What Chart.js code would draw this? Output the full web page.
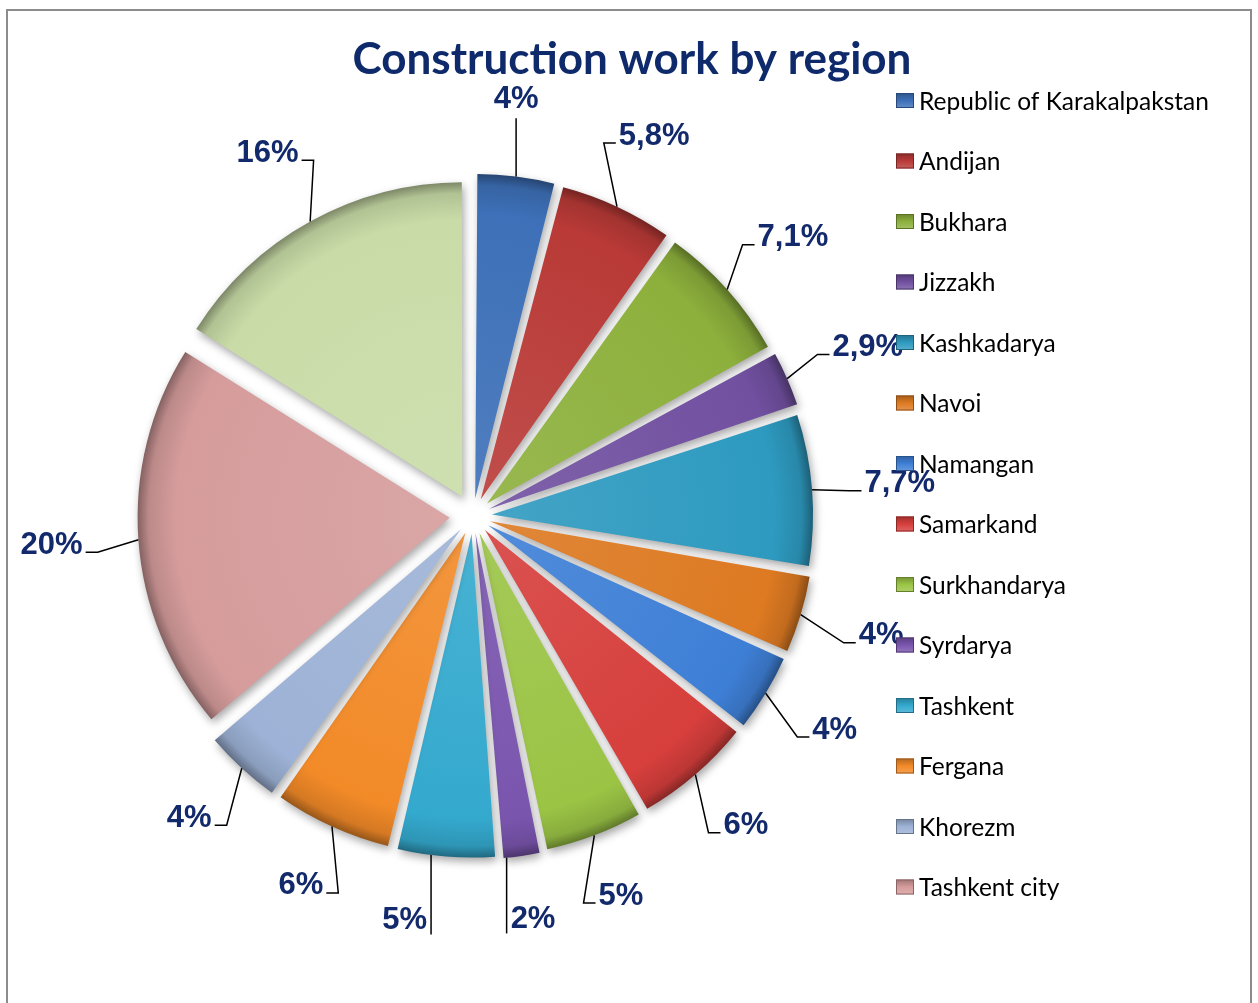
<!DOCTYPE html>
<html>
<head>
<meta charset="utf-8">
<title>Construction work by region</title>
<script src="https://cdn.jsdelivr.net/npm/chart.js@4.4.1/dist/chart.umd.min.js"></script>
<style>
  html, body { margin: 0; padding: 0; background: #fff; overflow: hidden; }
  #wrap { position: relative; width: 1258px; height: 1003px; }
  #frame { position: absolute; left: 6px; top: 9px; width: 1246px; height: 1100px; border: 2px solid #8c8c8c; box-sizing: border-box; }
  #chartBox { position: absolute; left: 0; top: 0; width: 1258px; height: 1003px; }
</style>
</head>
<body>
<div id="wrap">
  <div id="frame"></div>
  <div id="chartBox"><canvas id="regionChart"></canvas></div>
</div>
<script>
// ===== Data =====
const chartTitle = 'Construction work by region';
const regions = [
  'Republic of Karakalpakstan', 'Andijan', 'Bukhara', 'Jizzakh', 'Kashkadarya',
  'Navoi', 'Namangan', 'Samarkand', 'Surkhandarya', 'Syrdarya',
  'Tashkent', 'Fergana', 'Khorezm', 'Tashkent city', 'Not distributed by region'
];
const shares = [4, 5.8, 7.1, 2.9, 7.7, 4, 4, 6, 5, 2, 5, 6, 4, 20, 16];
const legendCount = 14; // last slice has no legend entry in the original
const sliceColors = [
  '#3d70b8', '#b93a37', '#8db03c', '#7150a0', '#2e9ac0',
  '#dd7a22', '#3e7fd6', '#d63f3c', '#9bc445', '#7a55ae',
  '#34a9ce', '#f28a28', '#9db2d6', '#d69c9c', '#c9dca7'
];

// ===== Helpers =====
const PIE_RADIUS = 311;
const EXPLODE = 24;
const LABEL_COLOR = '#12296b';

function shade(hex, amt) {
  const n = parseInt(hex.slice(1), 16);
  const target = amt < 0 ? 0 : 255;
  const p = Math.abs(amt);
  const mix = c => Math.round((target - c) * p + c);
  return 'rgb(' + mix(n >> 16) + ',' + mix((n >> 8) & 255) + ',' + mix(n & 255) + ')';
}

const totalShare = shares.reduce((a, b) => a + b, 0);
function sliceCirc(i) { return shares[i] / totalShare * 2 * Math.PI; }
function radiusFix(circ) { return 1 - Math.sin(Math.min(Math.PI, circ)); }
// chart.js moves an arc by offset/4 and also grows it by (offset/4)*fix,
// so thin slices get a smaller shift to keep the outer edge even
function sliceShift(i) {
  const f = radiusFix(sliceCirc(i));
  return 0.4 * EXPLODE + 0.6 * EXPLODE / (1 + f);
}

function formatShare(v) {
  return String(v).replace('.', ',') + '%';
}

// ===== Plugins =====
const sliceShadow = {
  id: 'sliceShadow',
  beforeDatasetDraw(chart) {
    const ctx = chart.ctx;
    ctx.save();
    ctx.shadowColor = 'rgba(0,0,0,0.35)';
    ctx.shadowBlur = 9;
    ctx.shadowOffsetX = 2;
    ctx.shadowOffsetY = 4;
  },
  afterDatasetDraw(chart) {
    chart.ctx.restore();
  }
};

const sliceLabels = {
  id: 'sliceLabels',
  afterDatasetsDraw(chart) {
    const ctx = chart.ctx;
    const meta = chart.getDatasetMeta(0);
    ctx.save();
    ctx.font = 'bold 31px "Liberation Sans", Arial, sans-serif';
    ctx.textAlign = 'center';
    ctx.textBaseline = 'middle';
    ctx.strokeStyle = '#000';
    ctx.lineWidth = 1.5;
    meta.data.forEach((arc, i) => {
      const p = arc.getProps(['x', 'y', 'startAngle', 'endAngle', 'outerRadius', 'circumference'], true);
      const mid = (p.startAngle + p.endAngle) / 2;
      const dx = Math.cos(mid), dy = Math.sin(mid);
      const t = (arc.options.offset || 0) / 4;
      const rr = p.outerRadius + t * radiusFix(p.circumference);
      const ox = p.x + dx * t, oy = p.y + dy * t;
      const ex = ox + dx * rr, ey = oy + dy * rr;
      const rl = t + rr + 78 - 14 * Math.max(dy, 0);
      const text = formatShare(shares[i]);
      const halfW = ctx.measureText(text).width / 2;
      const halfH = 11;
      let tx = p.x + dx * rl + dx * 10, ty = p.y + dy * rl;
      const sgn = dx >= 0 ? 1 : -1;
      ctx.beginPath();
      if (Math.abs(dx) < 0.2 && dy < 0) {
        tx = ex;
        ctx.moveTo(ex, ey);
        ctx.lineTo(ex, ty + halfH + 8);
      } else if (Math.abs(dx) < 0.2) {
        let lx = ex - 15;
        const xa = ox + rr * Math.cos(p.startAngle), xb = ox + rr * Math.cos(p.endAngle);
        lx = Math.min(Math.max(xa, xb) - 3, Math.max(Math.min(xa, xb) + 3, lx));
        const ly = oy + Math.sqrt(Math.max(0, rr * rr - (lx - ox) * (lx - ox)));
        ctx.moveTo(lx, ly);
        ctx.lineTo(lx, ty + halfH + 3);
        tx = lx + sgn * (halfW + 4);
      } else {
        const kx = tx - sgn * (halfW + 3), ky = ty + 7;
        ctx.moveTo(ex, ey);
        ctx.lineTo(kx - sgn * 12, ky);
        ctx.lineTo(kx, ky);
      }
      ctx.stroke();
      ctx.fillStyle = LABEL_COLOR;
      ctx.fillText(text, tx, ty);
    });
    ctx.restore();
  }
};

const titleAndLegend = {
  id: 'titleAndLegend',
  afterDraw(chart) {
    const ctx = chart.ctx;
    ctx.save();
    // title
    ctx.font = 'bold 44px Lato, "Open Sans", sans-serif';
    ctx.fillStyle = '#0e2a6a';
    ctx.textAlign = 'center';
    ctx.textBaseline = 'middle';
    ctx.fillText(chartTitle, 632, 60);

    // legend
    const x0 = 896, y0 = 101, step = 60.5;
    ctx.font = '24.5px Lato, "Open Sans", sans-serif';
    ctx.textAlign = 'left';
    for (let i = 0; i < legendCount; i++) {
      const y = y0 + i * step;
      const base = sliceColors[i];
      const g = ctx.createLinearGradient(0, y - 8, 0, y + 7);
      g.addColorStop(0, shade(base, -0.25));
      g.addColorStop(0.5, base);
      g.addColorStop(1, shade(base, 0.2));
      ctx.fillStyle = g;
      ctx.fillRect(x0, y - 8, 18, 15);
      ctx.strokeStyle = shade(base, -0.35);
      ctx.lineWidth = 1;
      ctx.strokeRect(x0 + 0.5, y - 7.5, 17, 14);
      ctx.fillStyle = '#000';
      ctx.fillText(regions[i], x0 + 23, y + 1);
    }
    ctx.restore();
  }
};

// ===== Chart =====
const canvas = document.getElementById('regionChart');
new Chart(canvas, {
  type: 'pie',
  data: {
    labels: regions,
    datasets: [{
      data: shares,
      backgroundColor: function(context) {
        const i = context.dataIndex;
        if (i === undefined) return sliceColors[0];
        const base = sliceColors[i];
        const area = context.chart.chartArea;
        if (!area) return base;
        const cx = (area.left + area.right) / 2;
        const cy = (area.top + area.bottom) / 2;
        const r = PIE_RADIUS + sliceShift(i) * radiusFix(sliceCirc(i));
        const g = context.chart.ctx.createRadialGradient(cx, cy, 0, cx, cy, r);
        g.addColorStop(0, shade(base, 0.1));
        g.addColorStop(0.88, base);
        g.addColorStop(0.965, shade(base, -0.12));
        g.addColorStop(1, shade(base, -0.38));
        return g;
      },
      borderWidth: 0,
      offset: function(context) {
        if (context.dataIndex === undefined) return 0;
        return 4 * sliceShift(context.dataIndex);
      },
      clip: false
    }]
  },
  options: {
    responsive: true,
    maintainAspectRatio: false,
    animation: false,
    radius: PIE_RADIUS,
    layout: { padding: { left: 0, right: 312, top: 60, bottom: 31 } },
    plugins: {
      legend: { display: false },
      title: { display: false },
      tooltip: { enabled: false }
    }
  },
  plugins: [sliceShadow, sliceLabels, titleAndLegend]
});
</script>
</body>
</html>
